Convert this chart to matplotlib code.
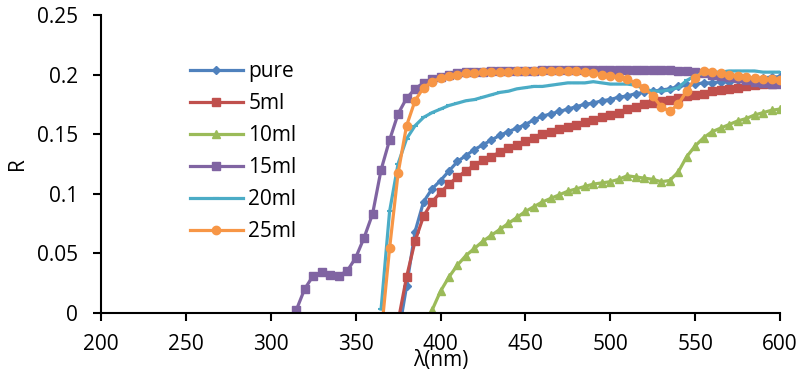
import numpy as np
import matplotlib
matplotlib.use("Agg")
import matplotlib.pyplot as plt
from matplotlib.ticker import FixedLocator, FixedFormatter

plt.rcParams['font.family'] = ['Open Sans', 'DejaVu Sans']

# wavelength grids (nm), 5 nm steps
x_pure = np.arange(375, 601, 5)
x_5ml = np.arange(375, 601, 5)
x_10ml = np.arange(395, 601, 5)
x_15ml = np.arange(315, 601, 5)
x_20ml = np.arange(365, 601, 5)
x_25ml = np.arange(365, 601, 5)

# reflectance values
r_pure = [-0.02, 0.022, 0.068, 0.093, 0.104, 0.111, 0.119, 0.127, 0.132, 0.137,
          0.141, 0.145, 0.149, 0.152, 0.155, 0.158, 0.162, 0.165, 0.167, 0.169,
          0.171, 0.173, 0.175, 0.176, 0.178, 0.179, 0.181, 0.182, 0.184, 0.185,
          0.186, 0.187, 0.188, 0.190, 0.191, 0.192, 0.193, 0.193, 0.194, 0.194,
          0.195, 0.196, 0.196, 0.197, 0.198, 0.198]
r_5ml = [-0.0075, 0.030, 0.060, 0.081, 0.093, 0.101, 0.108, 0.114, 0.119, 0.124,
         0.128, 0.131, 0.135, 0.138, 0.141, 0.144, 0.147, 0.150, 0.152, 0.154,
         0.156, 0.158, 0.160, 0.162, 0.164, 0.166, 0.168, 0.171, 0.173, 0.175,
         0.176, 0.178, 0.179, 0.180, 0.182, 0.183, 0.184, 0.186, 0.187, 0.188,
         0.189, 0.190, 0.191, 0.192, 0.192, 0.193]
r_10ml = [0.002, 0.018, 0.030, 0.040, 0.048, 0.054, 0.060, 0.065, 0.070, 0.075,
          0.080, 0.085, 0.089, 0.093, 0.096, 0.099, 0.102, 0.104, 0.106, 0.108,
          0.109, 0.110, 0.112, 0.115, 0.114, 0.113, 0.112, 0.110, 0.111, 0.118,
          0.131, 0.140, 0.147, 0.152, 0.155, 0.158, 0.161, 0.163, 0.166, 0.168,
          0.170, 0.171]
r_15ml = [0.002, 0.020, 0.031, 0.034, 0.032, 0.031, 0.035, 0.046, 0.063, 0.083,
          0.120, 0.145, 0.167, 0.180, 0.188, 0.193, 0.196, 0.198, 0.200, 0.201,
          0.202, 0.202, 0.202, 0.203, 0.203, 0.203, 0.203, 0.203, 0.203, 0.204,
          0.204, 0.204, 0.204, 0.204, 0.204, 0.204, 0.204, 0.204, 0.204, 0.204,
          0.204, 0.204, 0.204, 0.204, 0.204, 0.203, 0.203, 0.202, 0.201, 0.200,
          0.199, 0.198, 0.197, 0.195, 0.194, 0.193, 0.192, 0.192]
r_20ml = [0.003, 0.085, 0.125, 0.146, 0.157, 0.164, 0.168, 0.171, 0.174, 0.176,
          0.178, 0.179, 0.181, 0.183, 0.185, 0.186, 0.188, 0.189, 0.190, 0.190,
          0.191, 0.192, 0.193, 0.193, 0.193, 0.194, 0.193, 0.192, 0.192, 0.192,
          0.191, 0.188, 0.186, 0.186, 0.187, 0.189, 0.195, 0.199, 0.201, 0.202,
          0.202, 0.203, 0.203, 0.203, 0.203, 0.202, 0.202, 0.202]
r_25ml = [-0.019, 0.054, 0.117, 0.157, 0.178, 0.189, 0.194, 0.197, 0.199, 0.200,
          0.201, 0.201, 0.202, 0.202, 0.202, 0.202, 0.203, 0.203, 0.203, 0.203,
          0.203, 0.203, 0.203, 0.203, 0.202, 0.201, 0.200, 0.199, 0.198, 0.196,
          0.193, 0.189, 0.182, 0.173, 0.169, 0.175, 0.186, 0.197, 0.203, 0.202,
          0.201, 0.200, 0.199, 0.198, 0.197, 0.196, 0.196, 0.195]

x_ticks = [200, 250, 300, 350, 400, 450, 500, 550, 600]
y_ticks = [0, 0.05, 0.1, 0.15, 0.2, 0.25]
y_tick_labels = ['0', '0.05', '0.1', '0.15', '0.2', '0.25']

fig = plt.figure(figsize=(7.97, 3.78), dpi=100)
ax = fig.add_axes([0.1267, 0.1728, 0.852, 0.7875])

lw = 2.3
ax.plot(x_pure, r_pure, color='#4F81BD', marker='D', ms=4.5, lw=lw, label='pure')
ax.plot(x_5ml, r_5ml, color='#C0504D', marker='s', ms=5.5, lw=lw, label='5ml')
ax.plot(x_10ml, r_10ml, color='#9BBB59', marker='^', ms=6, lw=lw, label='10ml')
ax.plot(x_15ml, r_15ml, color='#8064A2', marker='s', ms=5.5, lw=lw, label='15ml')
ax.plot(x_20ml, r_20ml, color='#4BACC6', marker='_', ms=5, mew=1.5, lw=lw, label='20ml')
ax.plot(x_25ml, r_25ml, color='#F79646', marker='o', ms=6, lw=lw, label='25ml')

ax.set_xlim(200, 600)
ax.set_ylim(0, 0.25)
ax.xaxis.set_major_locator(FixedLocator(x_ticks))
ax.yaxis.set_major_locator(FixedLocator(y_ticks))
ax.yaxis.set_major_formatter(FixedFormatter(y_tick_labels))

for s in ['top', 'right']:
    ax.spines[s].set_visible(False)
for s in ['left', 'bottom']:
    ax.spines[s].set_linewidth(1.5)
ax.tick_params(direction='out', length=5.5, width=1.5, labelsize=15)
ax.tick_params(axis='y', pad=11)
ax.tick_params(axis='x', pad=9.5)

ax.set_xlabel('λ(nm)', fontsize=15, labelpad=-3)
ax.set_ylabel('R', fontsize=15, labelpad=6)

ax.legend(loc='upper left', bbox_to_anchor=(0.131, 0.8455), frameon=False,
          fontsize=15, handlelength=2.55, handletextpad=0.25, labelspacing=0.53,
          borderpad=0, borderaxespad=0)

fig.savefig('out.png', dpi=100)
